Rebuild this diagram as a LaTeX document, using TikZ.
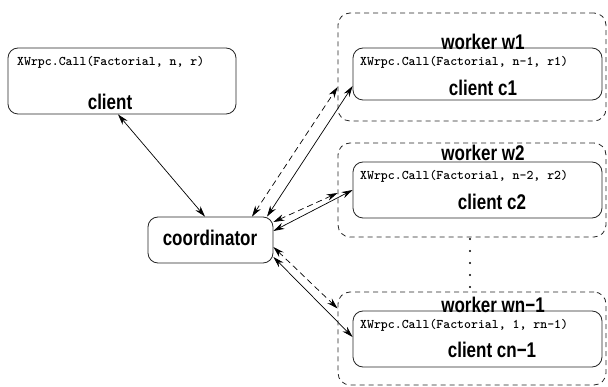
\documentclass[tikz,border=0pt]{standalone}
\usepackage{fontspec}
\setsansfont{Liberation Sans}
\usetikzlibrary{arrows.meta}

% tall bold sans labels, as set by the drawing program
\newcommand{\tallt}[1]{\scalebox{1}[1.25]{#1}}

\begin{document}
\begin{tikzpicture}[x=1pt,y=-1pt,
  box/.style={draw=black!85, rounded corners=10pt, line width=0.8pt, inner sep=0pt},
  grp/.style={draw=black!85, dash pattern=on 5pt off 4pt, rounded corners=12pt, line width=0.8pt, inner sep=0pt},
  call/.style={anchor=mid west, inner sep=0pt, font=\fontsize{13.2}{14}\selectfont\ttfamily\bfseries},
  title/.style={inner sep=0pt, font=\fontsize{17}{18}\selectfont\sffamily\bfseries},
  link/.style={line width=0.7pt, {Stealth[length=11pt,width=6.5pt]}-{Stealth[length=11pt,width=6.5pt]}},
  dlink/.style={link, dash pattern=on 6pt off 4pt},
  dotmark/.style={circle, fill, inner sep=0pt, minimum size=2.4pt}
]
\useasboundingbox[fill=white] (0,0) rectangle (608,387);

% frames
\node[box, minimum width=228pt, minimum height=66pt] (client) at (122,81) {};
\node[box, minimum width=125pt, minimum height=46pt] (coord) at (210.5,240) {};

\node[grp, minimum width=268pt, minimum height=108pt] (w1) at (472,67) {};
\node[box, minimum width=249pt, minimum height=52pt] (c1) at (477.5,74) {};

\node[grp, minimum width=268pt, minimum height=94pt] (w2) at (472,190) {};
\node[box, minimum width=249pt, minimum height=56pt] (c2) at (477.5,190) {};

\node[grp, minimum width=268pt, minimum height=93pt] (wn) at (472,338.5) {};
\node[box, minimum width=249pt, minimum height=56pt] (cn) at (477.5,339) {};

% texts
\node[call] (clientcall) at (17,63) {XWrpc.Call(Factorial, n, r)};
\node[title] (clientname) at (110,102) {\tallt{client}};
\node[title] (coordname) at (210,238) {\tallt{coordinator}};

\node[title] (w1name) at (483,42) {\tallt{worker w1}};
\node[call] (c1call) at (360,63) {XWrpc.Call(Factorial, n-1, r1)};
\node[title] (c1name) at (483,88) {\tallt{client c1}};

\node[title] (w2name) at (483,153) {\tallt{worker w2}};
\node[call] (c2call) at (360,177) {XWrpc.Call(Factorial, n-2, r2)};
\node[title] (c2name) at (492,202) {\tallt{client c2}};

\node[title] (wnname) at (493,305) {\tallt{worker wn−1}};
\node[call] (cncall) at (360,326) {XWrpc.Call(Factorial, 1, rn-1)};
\node[title] (cnname) at (492,350) {\tallt{client cn−1}};

% vertical ellipsis between the workers
\foreach \i/\y in {1/239,2/251,3/263,4/275,5/287}
  \node[dotmark] (dot\i) at (470,\y) {};

% connectors
\draw[link] ([xshift=-4pt]client.south) -- ([xshift=-5.5pt]coord.north);

\draw[dlink] ([xshift=41.5pt]coord.north) -- ([yshift=-20pt]w1.west);
\draw[link]  ([xshift=56.5pt]coord.north) -- ([yshift=-12pt]c1.west);

\draw[dlink] ([yshift=18pt]coord.east) -- ([yshift=-3pt]w2.west);
\draw[link]  ([yshift=9pt]coord.east) -- (c2.west);

\draw[dlink] ([yshift=-7pt]coord.east) -- ([yshift=30pt]wn.west);
\draw[link]  ([yshift=-17pt]coord.east) -- ([yshift=2pt]cn.west);
\end{tikzpicture}
\end{document}
